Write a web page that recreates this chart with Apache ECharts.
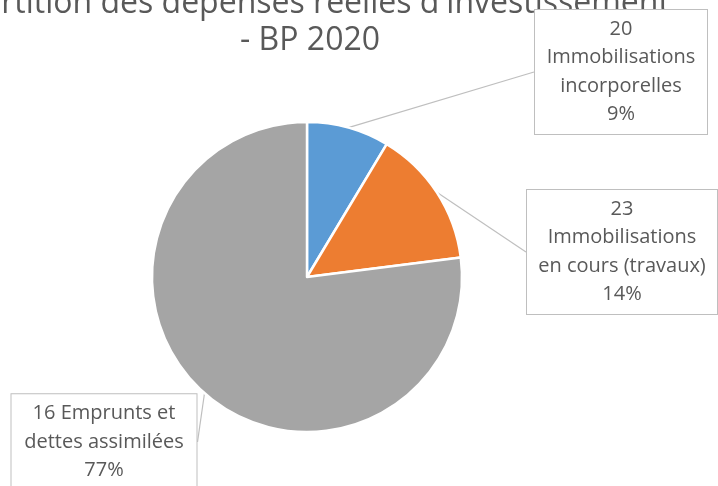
<!DOCTYPE html>
<html>
<head>
<meta charset="utf-8">
<script src="https://cdn.jsdelivr.net/npm/echarts@6/dist/echarts.min.js"></script>
<style>html,body{margin:0;padding:0;background:#fff;}#chart{width:718px;height:486px;}</style>
</head>
<body>
<div id="chart"></div>
<script>
const titleLines = ["Répartition des dépenses réelles d'investissement", "- BP 2020"];
const categories = ["20\nImmobilisations\nincorporelles", "23\nImmobilisations\nen cours (travaux)", "16 Emprunts et\ndettes assimilées"];
const values = [8.6, 14.4, 77.0];
const colors = ["#5B9BD5", "#ED7D31", "#A5A5A5"];
const labelCenters = [[621, 72], [622, 252], [104, 442]];
const labelWidths = [154, 172, 167];

const total = values.reduce((a, b) => a + b, 0);
const titleStyle = {fontFamily: 'Open Sans', fontSize: 32, fontWeight: 'normal', color: '#595959', lineHeight: 38};
const chart = echarts.init(document.getElementById('chart'), null, {renderer: 'canvas'});
chart.setOption({
  animation: false,
  title: [
    {text: titleLines[0], left: 293, top: -20, textAlign: 'center', textStyle: titleStyle, z: 1},
    {text: titleLines[1], left: 305, top: 17, textAlign: 'center', textStyle: titleStyle, z: 1}
  ],
  series: [{
    type: 'pie',
    z: 3,
    center: [307, 277],
    radius: 155,
    startAngle: 90,
    clockwise: true,
    data: categories.map((c, i) => ({
      name: c, value: values[i], itemStyle: {color: colors[i]},
      label: {width: labelWidths[i]}
    })),
    itemStyle: {borderColor: '#fff', borderWidth: 2.5},
    label: {
      show: true,
      formatter: p => p.name + '\n' + Math.round(p.value / total * 100) + '%',
      fontFamily: 'Open Sans', fontSize: 20, lineHeight: 28.5, color: '#595959',
      backgroundColor: '#fff', borderColor: '#bfbfbf', borderWidth: 1,
      padding: [6, 9, 4, 9], align: 'center', overflow: 'none'
    },
    labelLine: {show: true, length: 20, length2: 0, smooth: false, lineStyle: {color: '#bfbfbf', width: 1.2}},
    labelLayout: p => ({x: labelCenters[p.dataIndex][0], y: labelCenters[p.dataIndex][1], align: 'center', verticalAlign: 'middle'})
  }]
});
</script>
</body>
</html>
